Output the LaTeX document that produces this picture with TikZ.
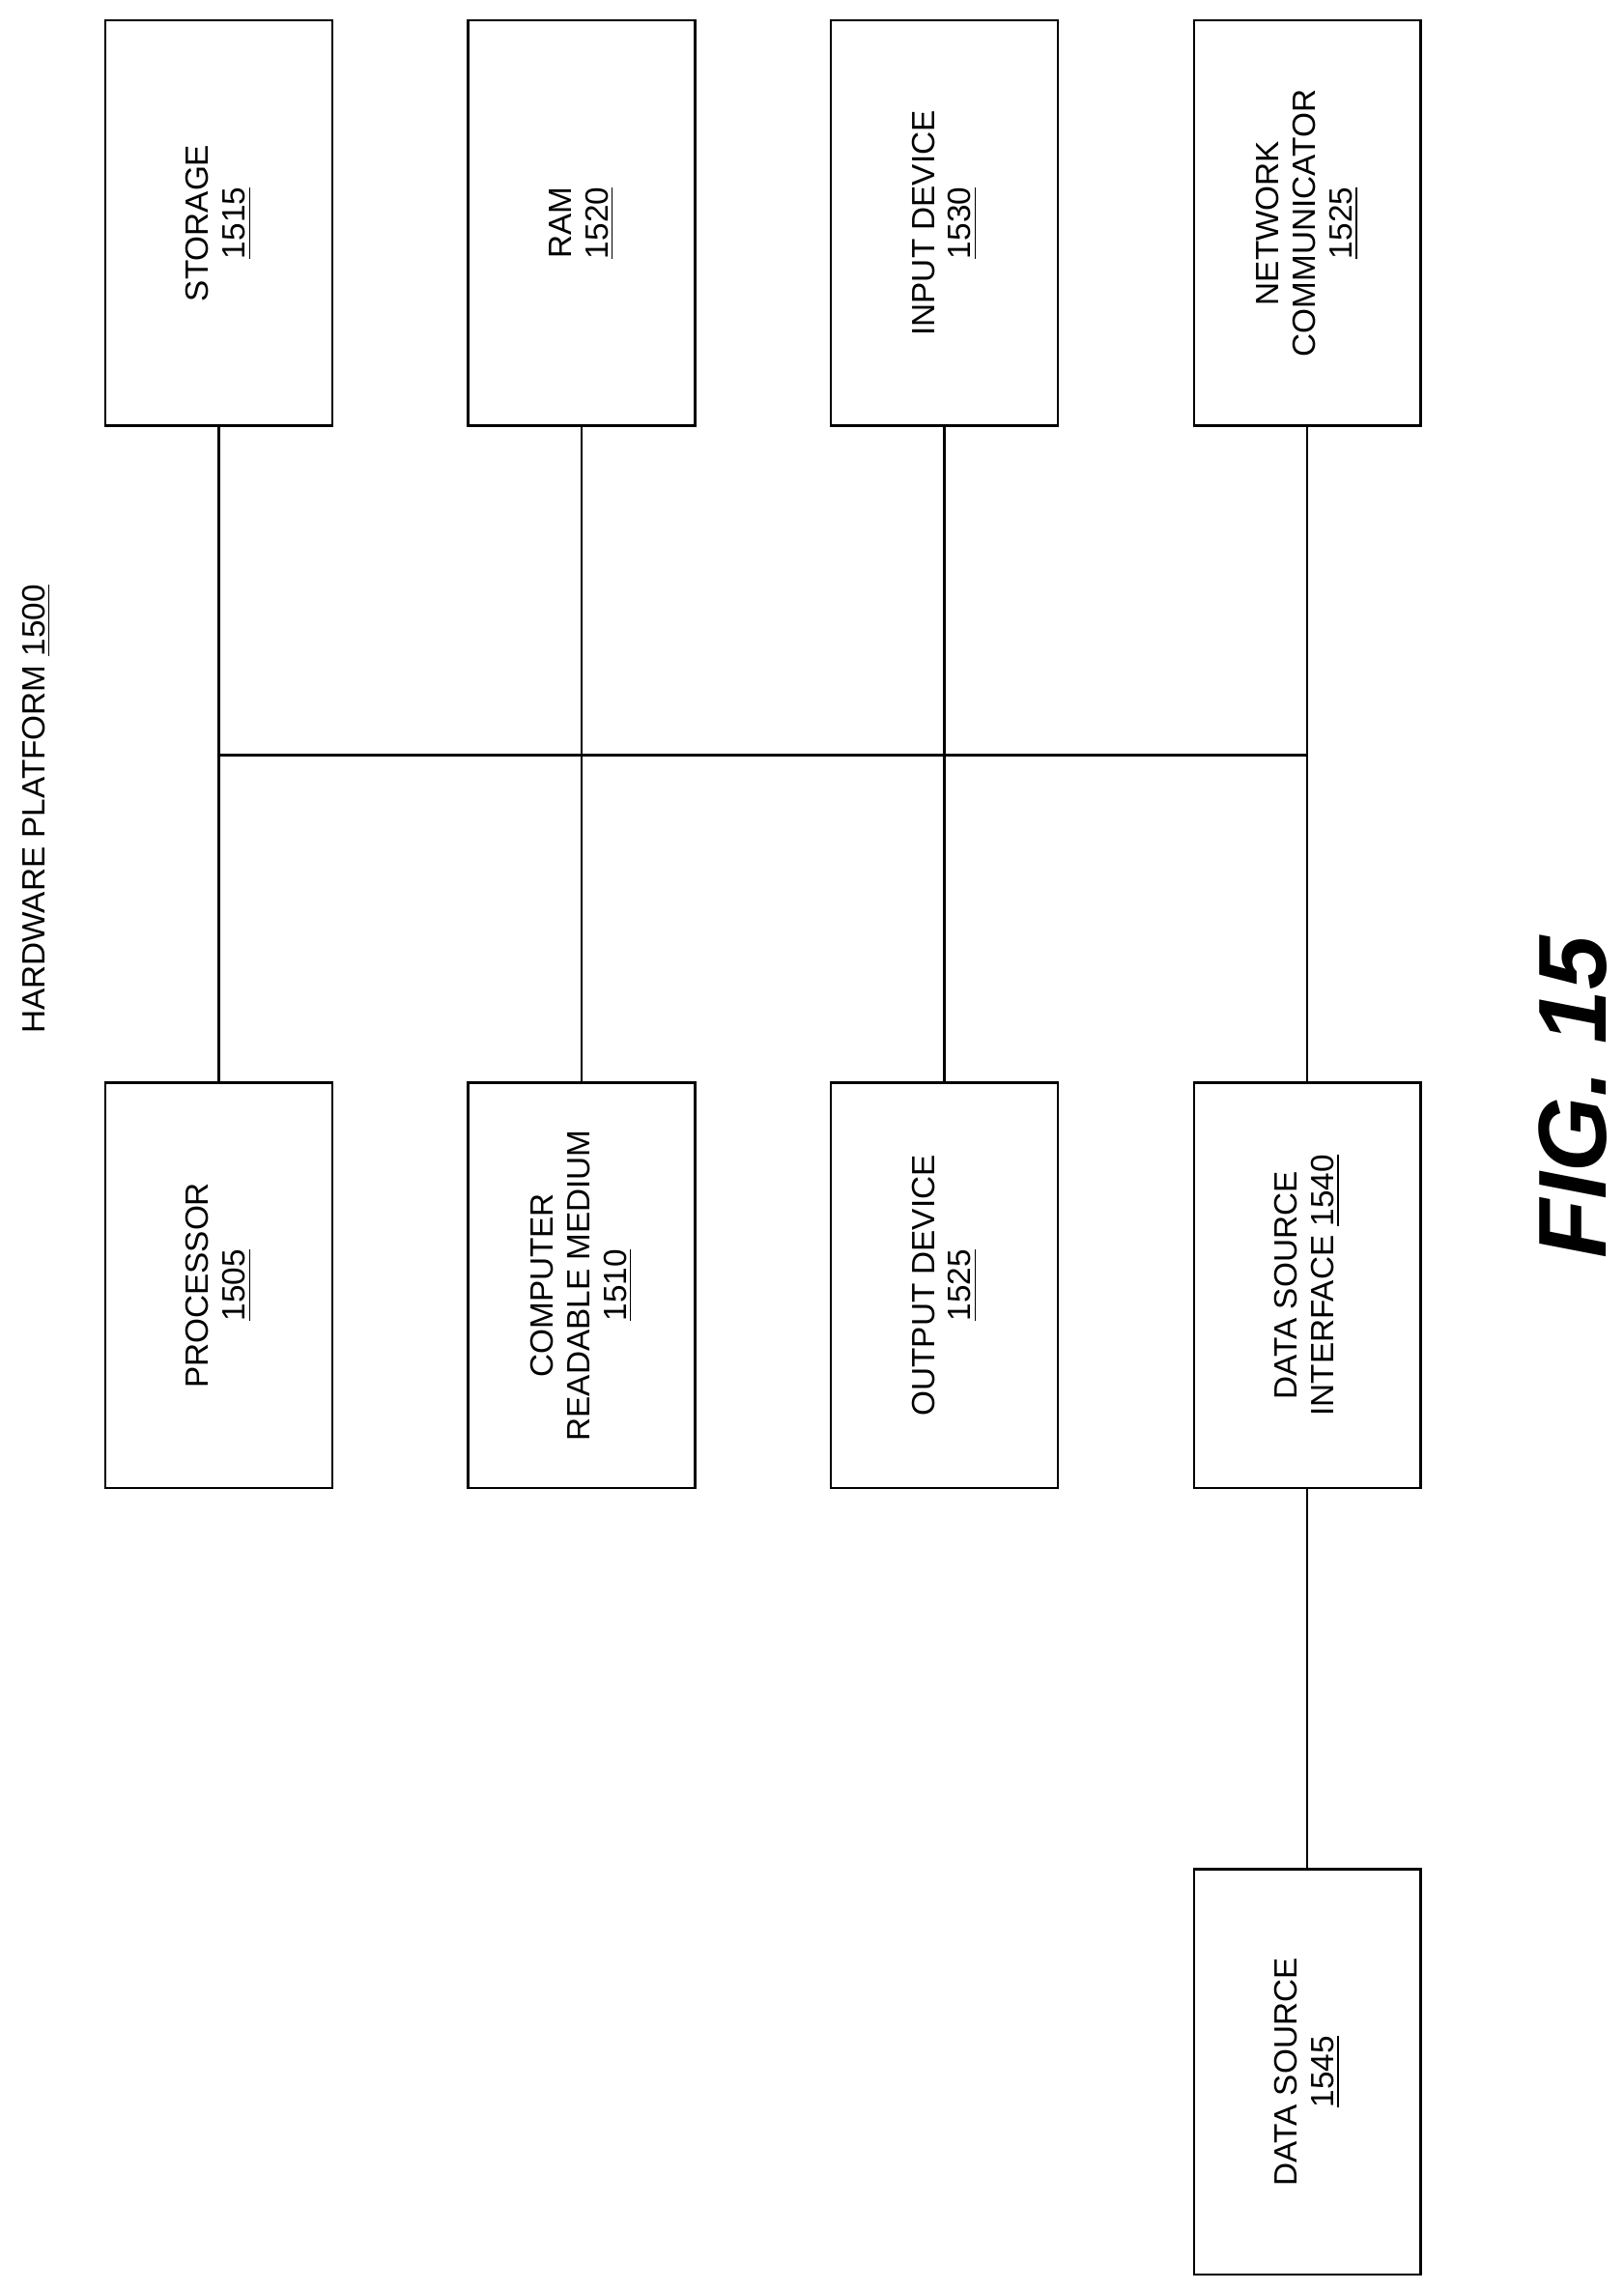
\documentclass[tikz,border=0pt]{standalone}
\usepackage{fontspec}
\setmainfont{Liberation Sans}
\begin{document}
\begin{tikzpicture}[x=0.5pt,y=-0.5pt,
  box/.style={draw,line width=0.8pt,minimum width=138.5pt,minimum height=77.5pt,align=center,rotate=90,font=\fontsize{11}{12.5}\selectfont,inner sep=0pt},
  ln/.style={line width=0.8pt}]
\useasboundingbox (0,0) rectangle (1110,1565);
\node[box] (stor) at (149.5,152.5) {STORAGE\\\underline{1515}};
\node[box] (ram) at (397.5,152.5) {RAM\\\underline{1520}};
\node[box] (inp) at (645.5,152.5) {INPUT DEVICE\\\underline{1530}};
\node[box] (net) at (893.5,152.5) {NETWORK\\COMMUNICATOR\\\underline{1525}};
\node[box] (proc) at (149.5,878.5) {PROCESSOR\\\underline{1505}};
\node[box] (crm) at (397.5,878.5) {COMPUTER\\READABLE MEDIUM\\\underline{1510}};
\node[box] (out) at (645.5,878.5) {OUTPUT DEVICE\\\underline{1525}};
\node[box] (dsi) at (893.5,878.5) {DATA SOURCE\\INTERFACE \underline{1540}};
\node[box] (ds) at (893.5,1416) {DATA SOURCE\\\underline{1545}};
\coordinate (b1) at (149.5,516);
\coordinate (b4) at (893.5,516);
\draw[ln] (stor.west) -- (proc.east);
\draw[ln] (ram.west) -- (crm.east);
\draw[ln] (inp.west) -- (out.east);
\draw[ln] (net.west) -- (dsi.east);
\draw[ln] (b1) -- (b4);
\draw[ln] (dsi.west) -- (ds.east);
\node[rotate=90,font=\fontsize{11}{12.5}\selectfont] (hp) at (25,553) {HARDWARE PLATFORM \underline{1500}};
\node[rotate=90,font=\fontsize{33}{36}\selectfont\bfseries\itshape] (fig) at (1075,750) {FIG. 15};
\end{tikzpicture}
\end{document}
